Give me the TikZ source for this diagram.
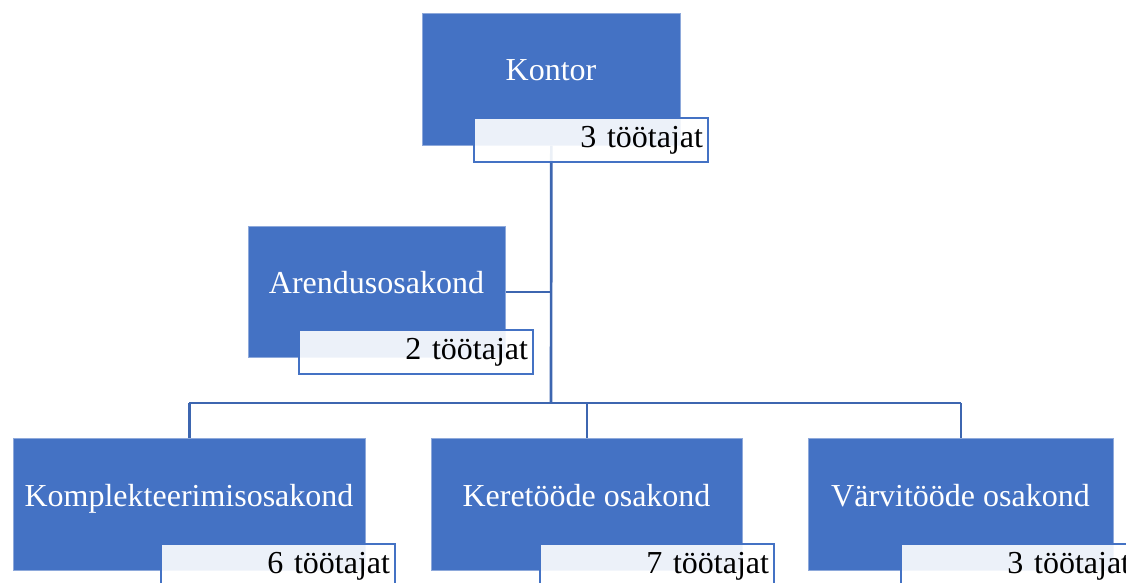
\documentclass[tikz,border=0pt]{standalone}
\usepackage{fontspec}
\setmainfont{Liberation Serif}
\definecolor{boxblue}{HTML}{4472C4}
\definecolor{linkblue}{HTML}{3D66B0}
\definecolor{edgeblue}{HTML}{8EA9DB}
\begin{document}
\begin{tikzpicture}[x=0.75pt,y=-0.75pt,
  unit/.style={draw=edgeblue, line width=0.5pt, fill=boxblue, anchor=north west, inner sep=0pt},
  unittext/.style={text=white, anchor=base, inner sep=0pt, font=\fontsize{24}{28}\selectfont},
  countbox/.style={draw=boxblue, line width=1.6pt, fill=white, fill opacity=0.9, text opacity=1,
    anchor=north west, minimum width=175.5pt, minimum height=33pt, inner xsep=3.75pt, inner ysep=0pt,
    text width=168pt, align=right, font=\fontsize{24}{28}\selectfont},
  link/.style={draw=linkblue, line width=2pt}]
\useasboundingbox (0,0) rectangle (1126,582);
\clip (0,0) rectangle (1126,582);
% units
\node[unit, minimum width=193.5pt, minimum height=99pt] (K) at (422,13) {};
\node[unit, minimum width=192.75pt, minimum height=98.25pt] (A) at (248,226) {};
\node[unit, minimum width=264pt, minimum height=99pt] (C) at (13,438) {};
\node[unit, minimum width=233.25pt, minimum height=99pt] (R) at (431,438) {};
\node[unit, minimum width=228.75pt, minimum height=99pt] (V) at (808,438) {};
% unit names
\node[unittext] (Kt) at (551,80) {Kontor};
\node[unittext] (At) at (376.5,293) {Arendusosakond};
\node[unittext] (Ct) at (189,506) {Komplekteerimisosakond};
\node[unittext] (Rt) at (586.5,506) {Keretööde osakond};
\node[unittext] (Vt) at (960.5,506) {Värvitööde osakond};
% connectors
\coordinate (H) at (551,403);
\draw[link] (K.south) -- (H);
\draw[link] (A.east) -- (A.east -| K.south);
\draw[link] (C.north |- H) -- (V.north |- H);
\draw[link] (C.north |- H) -- (C.north);
\draw[link] (R.north |- H) -- (R.north);
\draw[link] (V.north |- H) -- (V.north);
% counts
\node[countbox] (Kc) at (473,117) {3 töötajat};
\node[countbox] (Ac) at (298,329) {2 töötajat};
\node[countbox] (Cc) at (160,543) {6 töötajat};
\node[countbox] (Rc) at (539,543) {7 töötajat};
\node[countbox] (Vc) at (900,543) {3 töötajat};
\end{tikzpicture}
\end{document}
